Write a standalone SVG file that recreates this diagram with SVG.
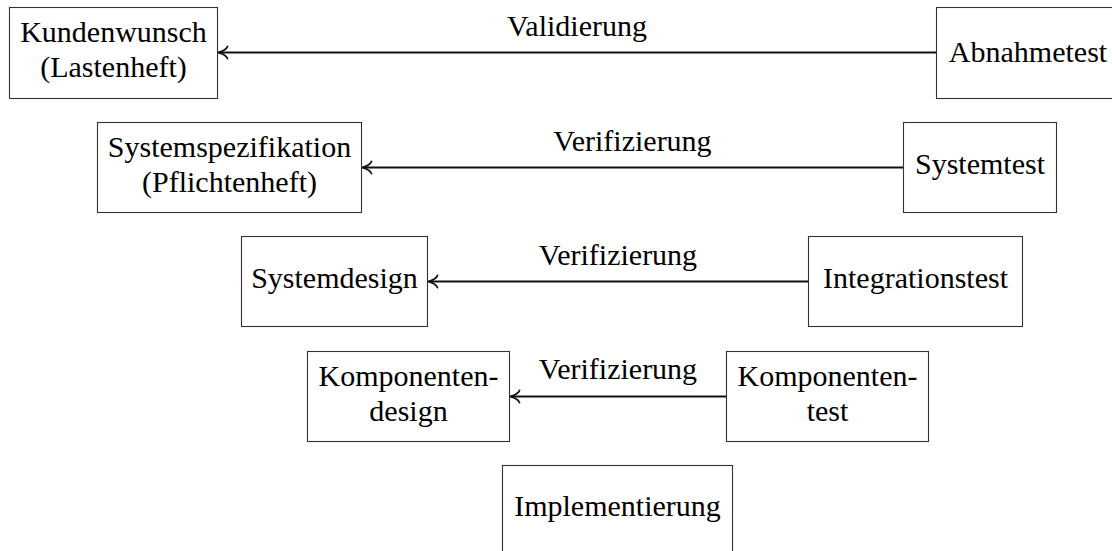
<svg xmlns="http://www.w3.org/2000/svg" width="1112" height="551" viewBox="0 0 1112 551">
  <style>
    .box { fill: #ffffff; stroke: #333333; stroke-width: 1.1; }
    .edge { fill: none; stroke: #111111; stroke-width: 1.8; }
  </style>
  <defs>
    <!-- curved "to" style arrow tip, tip at (0,0), pointing along +x -->
    <marker id="tip" markerUnits="userSpaceOnUse" viewBox="-12 -8 14 16" markerWidth="14" markerHeight="16" refX="0" refY="0" orient="auto" overflow="visible">
      <path d="M -8.5,-6.2 C -8,-3.4 -2.4,-0.7 0.8,0 C -2.4,0.7 -8,3.4 -8.5,6.2" fill="none" stroke="#111111" stroke-width="1.8" stroke-linecap="round" stroke-linejoin="round"/>
    </marker>
  </defs>
  <rect width="1112" height="551" fill="#ffffff"/>

  <!-- connectors: test stage back to the matching design stage -->
  <g id="connectors">
    <line class="edge" x1="936.5" y1="52.5" x2="219" y2="52.5" marker-end="url(#tip)"/>
    <text x="577" y="36" font-family="Liberation Serif" font-size="30" text-anchor="middle">Validierung</text>
    <line class="edge" x1="903.5" y1="167.5" x2="363" y2="167.5" marker-end="url(#tip)"/>
    <text x="632.5" y="151" font-family="Liberation Serif" font-size="30" text-anchor="middle">Verifizierung</text>
    <line class="edge" x1="808.5" y1="281.5" x2="429" y2="281.5" marker-end="url(#tip)"/>
    <text x="618" y="265" font-family="Liberation Serif" font-size="30" text-anchor="middle">Verifizierung</text>
    <line class="edge" x1="726.5" y1="396.5" x2="511" y2="396.5" marker-end="url(#tip)"/>
    <text x="618" y="379" font-family="Liberation Serif" font-size="30" text-anchor="middle">Verifizierung</text>
  </g>

  <g id="kundenwunsch">
    <rect class="box" x="9.5" y="7.5" width="208" height="91"/>
    <text x="113.5" y="42" font-family="Liberation Serif" font-size="30" text-anchor="middle">Kundenwunsch</text>
    <text x="113.5" y="77" font-family="Liberation Serif" font-size="30" text-anchor="middle">(Lastenheft)</text>
  </g>

  <g id="abnahmetest">
    <rect class="box" x="936.5" y="7.5" width="190" height="91"/>
    <text x="1028" y="62" font-family="Liberation Serif" font-size="30" text-anchor="middle">Abnahmetest</text>
  </g>

  <g id="systemspezifikation">
    <rect class="box" x="97.5" y="122.5" width="264" height="90"/>
    <text x="229.5" y="157" font-family="Liberation Serif" font-size="30" text-anchor="middle">Systemspezifikation</text>
    <text x="229.5" y="192" font-family="Liberation Serif" font-size="30" text-anchor="middle">(Pflichtenheft)</text>
  </g>

  <g id="systemtest">
    <rect class="box" x="903.5" y="122.5" width="153" height="90"/>
    <text x="980" y="174" font-family="Liberation Serif" font-size="30" text-anchor="middle">Systemtest</text>
  </g>

  <g id="systemdesign">
    <rect class="box" x="241.5" y="236.5" width="186" height="90"/>
    <text x="334.5" y="288" font-family="Liberation Serif" font-size="30" text-anchor="middle">Systemdesign</text>
  </g>

  <g id="integrationstest">
    <rect class="box" x="808.5" y="236.5" width="214" height="90"/>
    <text x="915.5" y="288" font-family="Liberation Serif" font-size="30" text-anchor="middle">Integrationstest</text>
  </g>

  <g id="komponentendesign">
    <rect class="box" x="307.5" y="351.5" width="202" height="90"/>
    <text x="408.5" y="386" font-family="Liberation Serif" font-size="30" text-anchor="middle">Komponenten-</text>
    <text x="408.5" y="421" font-family="Liberation Serif" font-size="30" text-anchor="middle">design</text>
  </g>

  <g id="komponententest">
    <rect class="box" x="726.5" y="351.5" width="202" height="90"/>
    <text x="827.5" y="386" font-family="Liberation Serif" font-size="30" text-anchor="middle">Komponenten-</text>
    <text x="827.5" y="421" font-family="Liberation Serif" font-size="30" text-anchor="middle">test</text>
  </g>

  <g id="implementierung">
    <rect class="box" x="502.5" y="465.5" width="230" height="90"/>
    <text x="617.5" y="516" font-family="Liberation Serif" font-size="30" text-anchor="middle">Implementierung</text>
  </g>
</svg>
